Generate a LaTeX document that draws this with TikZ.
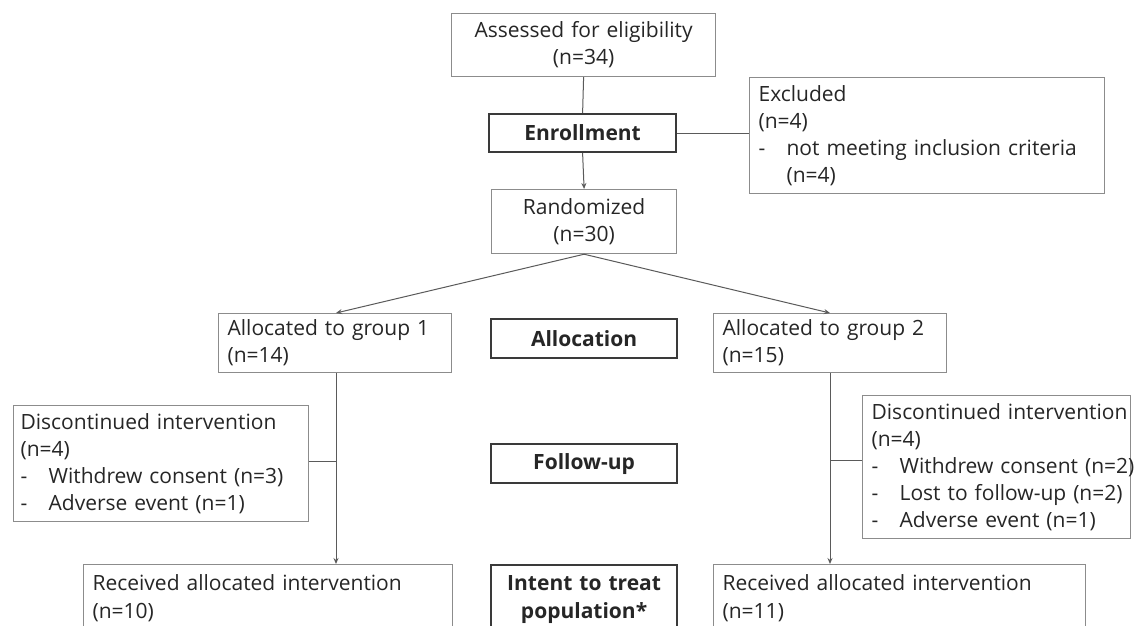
\documentclass[tikz,border=0pt]{standalone}
\usepackage{fontspec}
\setmainfont{Open Sans}
\usetikzlibrary{arrows.meta}
\definecolor{txt}{HTML}{262626}
\definecolor{bline}{HTML}{8C8C8C}
\definecolor{cline}{HTML}{5A5A5A}
\definecolor{hline}{HTML}{3A3A3A}
\newcommand{\dashitem}{\makebox[28pt][l]{-}}
\begin{document}
\begin{tikzpicture}[x=1pt,y=-1pt,
  every node/.style={text=txt,font=\fontsize{21}{27}\selectfont},
  box/.style={draw=bline,line width=1.2pt,inner ysep=0pt,inner xsep=9pt,anchor=north west,align=left},
  cbox/.style={box,align=center},
  head/.style={draw=hline,line width=2.2pt,inner ysep=0pt,inner xsep=4pt,anchor=north west,align=center,font=\fontsize{21}{27}\selectfont\bfseries},
  cut/.style={inner ysep=10pt,text depth=30pt},
  conn/.style={draw=cline,line width=1pt},
  arr/.style={conn,-{Stealth[length=6pt,width=5pt]}}
]
\useasboundingbox (0,0) rectangle (1143,625);
\clip (0,0) rectangle (1143,625);
\fill[white] (0,0) rectangle (1143,625);

\coordinate (c1) at (336,0);
\coordinate (c2) at (830,0);

\node[cbox,text width=246pt,minimum height=63pt] (assess) at (451,13) {Assessed for eligibility\\(n=34)};
\node[head,text width=179pt,minimum height=38pt] (enroll) at (488,113) {Enrollment};
\node[box,text width=337pt,minimum height=116pt] (excl) at (749,77) {Excluded\\(n=4)\\\mbox{\dashitem not meeting inclusion criteria}\\\hspace*{28pt}(n=4)};
\node[cbox,text width=167pt,minimum height=64pt] (rand) at (491,189) {Randomized\\(n=30)};

\node[box,text width=215pt,minimum height=59pt] (g1) at (218,313) {\mbox{Allocated to group 1}\\(n=14)};
\node[head,text width=178pt,minimum height=39pt] (alloc) at (490,318) {Allocation};
\node[box,text width=215pt,minimum height=59pt] (g2) at (713,313) {\mbox{Allocated to group 2}\\(n=15)};

\node[box,inner xsep=7pt,text width=281pt,minimum height=116pt] (disc1) at (13,405) {\mbox{Discontinued intervention}\\(n=4)\\\mbox{\dashitem Withdrew consent (n=3)}\\\mbox{\dashitem Adverse event (n=1)}};
\node[head,text width=178pt,minimum height=39pt] (follow) at (490,443) {Follow-up};
\node[box,text width=250pt,minimum height=143pt] (disc2) at (862,395) {\mbox{Discontinued intervention}\\(n=4)\\\mbox{\dashitem Withdrew consent (n=2)}\\\mbox{\dashitem Lost to follow-up (n=2)}\\\mbox{\dashitem Adverse event (n=1)}};

\node[box,cut,text width=351pt,font=\fontsize{21}{28}\selectfont] (rec1) at (83,564) {\mbox{Received allocated intervention}\\(n=10)};
\node[head,cut,text width=178pt,font=\fontsize{21}{28}\selectfont\bfseries] (itt) at (490,564) {Intent to treat\\population*};
\node[box,cut,text width=354pt,font=\fontsize{21}{28}\selectfont] (rec2) at (713,564) {\mbox{Received allocated intervention}\\(n=11)};

\draw[conn] (assess.south) -- (enroll.north);
\draw[arr] (enroll.south) -- (rand.north);
\draw[conn] (enroll.east) -- (enroll.east -| excl.west);
\draw[arr] (rand.south) -- (g1.north -| c1);
\draw[arr] (rand.south) -- (g2.north -| c2);
\draw[arr] (g1.south -| c1) -- (rec1.north -| c1);
\draw[arr] (g2.south -| c2) -- (rec2.north -| c2);
\draw[conn] ([yshift=2pt]disc1.east) -- ([yshift=2pt]disc1.east -| c1);
\draw[conn] ([yshift=7pt]disc2.west) -- ([yshift=7pt]disc2.west -| c2);
\end{tikzpicture}
\end{document}
